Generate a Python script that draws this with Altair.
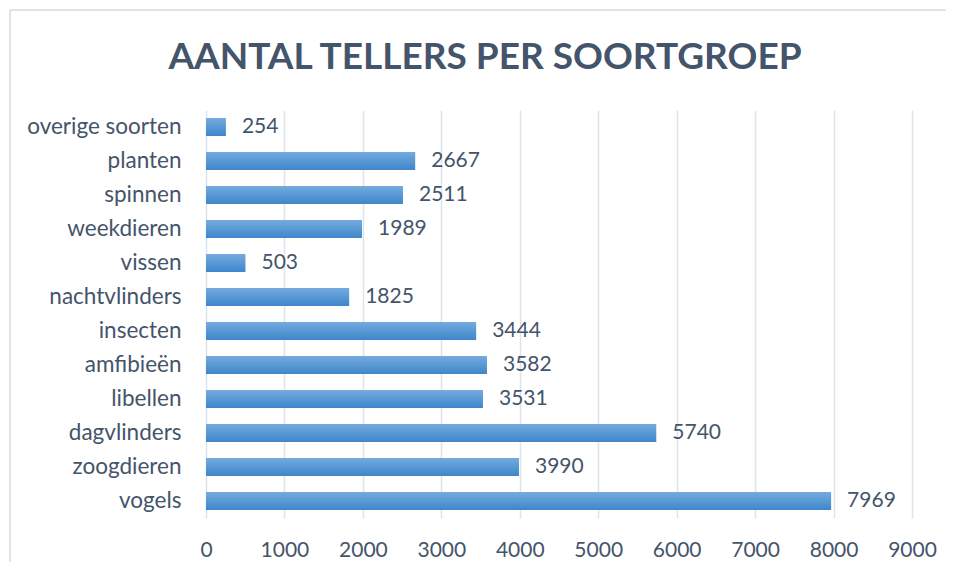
import altair as alt
import pandas as pd

categories = ["overige soorten", "planten", "spinnen", "weekdieren", "vissen",
              "nachtvlinders", "insecten", "amfibieën", "libellen", "dagvlinders",
              "zoogdieren", "vogels"]
values = [254, 2667, 2511, 1989, 503, 1825, 3444, 3582, 3531, 5740, 3990, 7969]
x_ticks = [0, 1000, 2000, 3000, 4000, 5000, 6000, 7000, 8000, 9000]
title_text = ["AANTAL TELLERS PER SOORTGROEP"]

df = pd.DataFrame({"soort": categories, "aantal": values})
title_df = pd.DataFrame({"t": title_text})

TEXT = "#44546a"
FONT = "Lato"

grad = alt.Gradient(
    gradient="linear",
    stops=[alt.GradientStop(color="#74abdf", offset=0),
           alt.GradientStop(color="#3e86ca", offset=1)],
    x1=0, x2=0, y1=0, y2=1,
)

x_enc = alt.X("aantal:Q",
              scale=alt.Scale(domain=[0, 9000], nice=False),
              axis=alt.Axis(values=x_ticks, format="d", title=None, domain=False,
                            ticks=False, labelFontSize=21, labelColor=TEXT,
                            labelFont=FONT, labelPadding=21, gridColor="#dfe3ea",
                            gridWidth=1.5, labelFlush=False))
y_enc = alt.Y("soort:N", sort=categories,
              scale=alt.Scale(paddingInner=0.47, paddingOuter=0.235),
              axis=alt.Axis(title=None, domain=False, ticks=False, grid=False,
                            labelFontSize=22.5, labelColor=TEXT, labelFont=FONT,
                            labelPadding=25))

bars = alt.Chart(df).mark_bar(color=grad).encode(x=x_enc, y=y_enc)

labels = alt.Chart(df).mark_text(align="left", baseline="middle", dx=16,
                                 fontSize=21, color=TEXT, font=FONT).encode(
    x="aantal:Q", y=alt.Y("soort:N", sort=categories), text="aantal:Q")

frame_top = alt.Chart(title_df).mark_rule(color="#d9d9d9", strokeWidth=1.5).encode(
    x=alt.value(-196), x2=alt.value(740), y=alt.value(-100))
frame_left = alt.Chart(title_df).mark_rule(color="#d9d9d9", strokeWidth=1.5).encode(
    x=alt.value(-196), y=alt.value(-100), y2=alt.value(480))

title = alt.Chart(title_df).mark_text(align="center", baseline="alphabetic",
                                      fontSize=37, fontWeight="bold", font=FONT,
                                      color=TEXT).encode(
    x=alt.value(279), y=alt.value(-41), text="t:N")

chart = alt.layer(frame_top, frame_left, bars, labels, title).properties(
    width=706, height=408,
    padding={"left": 198, "top": 102, "right": 34, "bottom": 44},
    autosize=alt.AutoSizeParams(type="none"),
).configure_view(stroke=None)

chart.save("out.html", embed_options={"renderer": "svg", "actions": False})
